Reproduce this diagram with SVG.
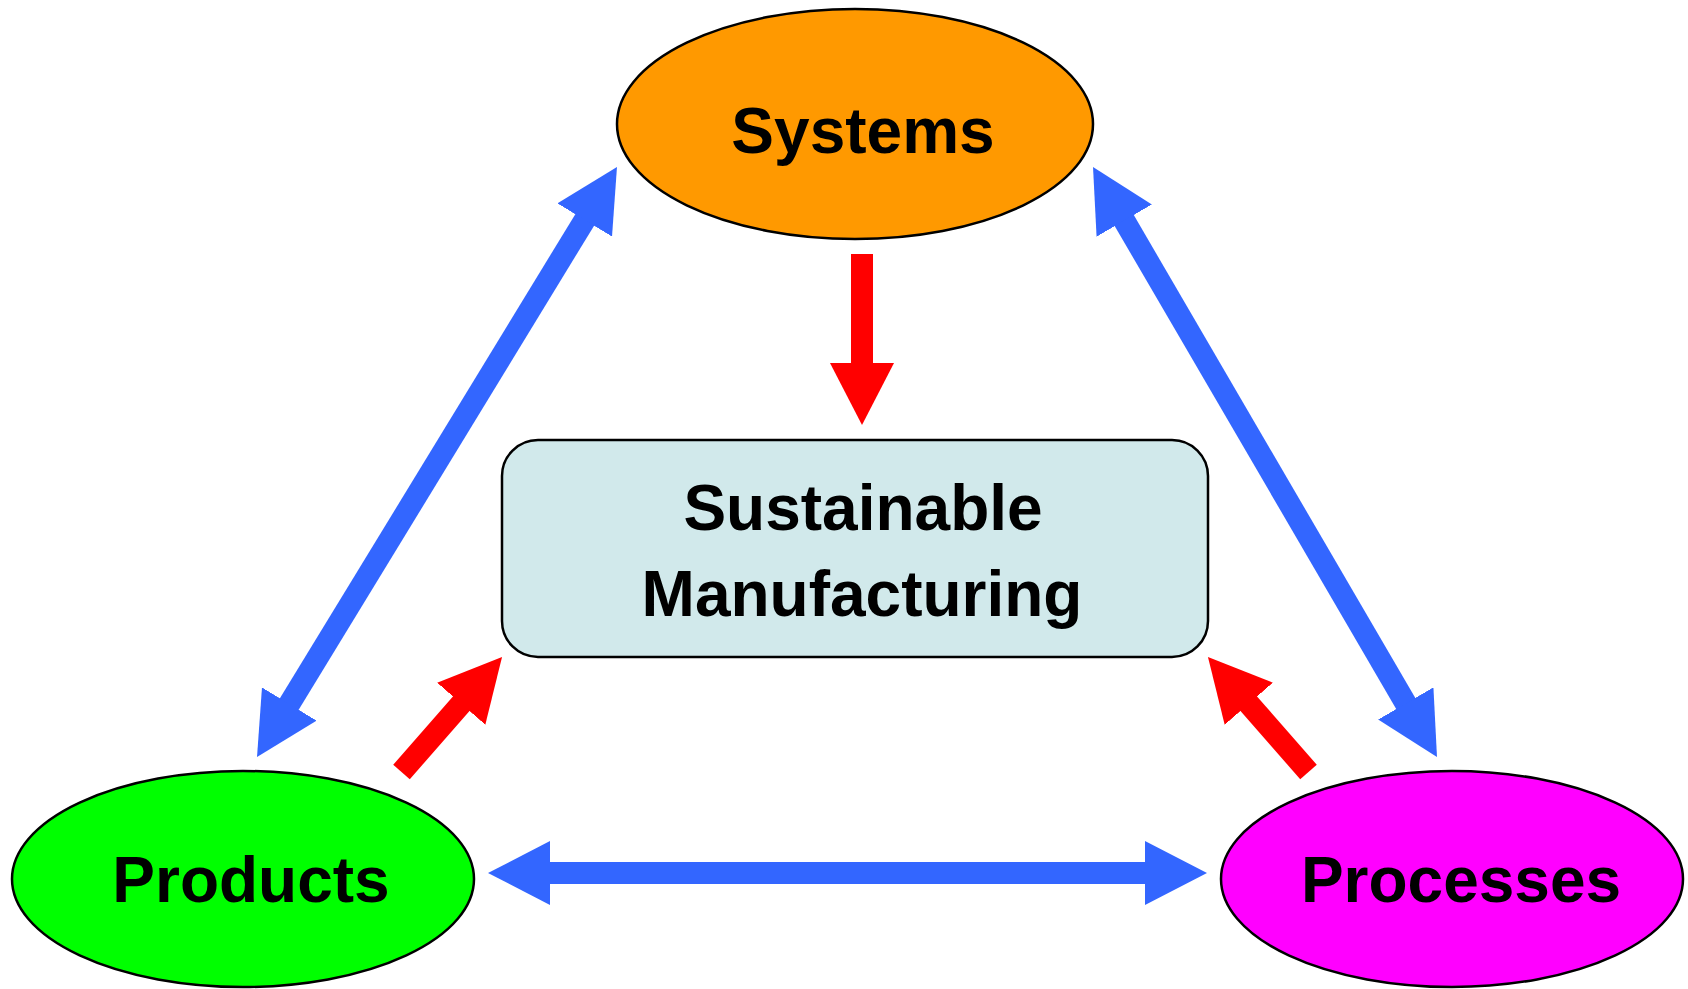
<svg xmlns="http://www.w3.org/2000/svg" width="1688" height="989" viewBox="0 0 1688 989">
  <style>
    .node { stroke: #000; stroke-width: 2.5; }
    .lbl { font-family: "Liberation Sans", Arial, sans-serif; font-weight: bold; font-size: 64px; fill: #000; text-anchor: middle; }
    .blue { stroke: #3366FF; stroke-width: 22; fill: none; }
    .red { stroke: #FF0000; stroke-width: 22; fill: none; }
  </style>
  <defs>
    <marker id="hb" viewBox="0 -32 62 64" refX="10" refY="0" markerWidth="62" markerHeight="64" markerUnits="userSpaceOnUse" orient="auto-start-reverse">
      <path d="M0,-32 L62,0 L0,32 Z" fill="#3366FF"/>
    </marker>
    <marker id="hr" viewBox="0 -32 62 64" refX="10" refY="0" markerWidth="62" markerHeight="64" markerUnits="userSpaceOnUse" orient="auto">
      <path d="M0,-32 L62,0 L0,32 Z" fill="#FF0000"/>
    </marker>
  </defs>
  <rect width="1688" height="989" fill="#FFFFFF"/>
  <g id="connectors">
    <line class="red" x1="862" y1="254" x2="862" y2="373" marker-end="url(#hr)"/>
    <line class="red" x1="401.5" y1="772" x2="467.8" y2="696.2" marker-end="url(#hr)"/>
    <line class="red" x1="1308.5" y1="772" x2="1242.2" y2="696.2" marker-end="url(#hr)"/>
    <line class="blue" x1="540" y1="873" x2="1155" y2="873" marker-start="url(#hb)" marker-end="url(#hb)"/>
    <line class="blue" x1="284.1" y1="712.6" x2="589.9" y2="211.4" marker-start="url(#hb)" marker-end="url(#hb)"/>
    <line class="blue" x1="1119.2" y1="211.9" x2="1410.8" y2="712.1" marker-start="url(#hb)" marker-end="url(#hb)"/>
  </g>
  <g id="systems">
    <ellipse class="node" cx="855" cy="124" rx="238" ry="115" fill="#FF9900"/>
    <text class="lbl" x="863" y="153">Systems</text>
  </g>
  <g id="sustainable-manufacturing">
    <rect class="node" x="502" y="440" width="706" height="217" rx="36" ry="36" fill="#D1E9EB"/>
    <text class="lbl" x="863" y="530">Sustainable</text>
    <text class="lbl" x="862" y="616">Manufacturing</text>
  </g>
  <g id="products">
    <ellipse class="node" cx="243" cy="879" rx="231" ry="108" fill="#00FF00"/>
    <text class="lbl" x="251" y="902">Products</text>
  </g>
  <g id="processes">
    <ellipse class="node" cx="1452" cy="879" rx="231" ry="108" fill="#FF00FF"/>
    <text class="lbl" x="1461" y="902">Processes</text>
  </g>
</svg>
